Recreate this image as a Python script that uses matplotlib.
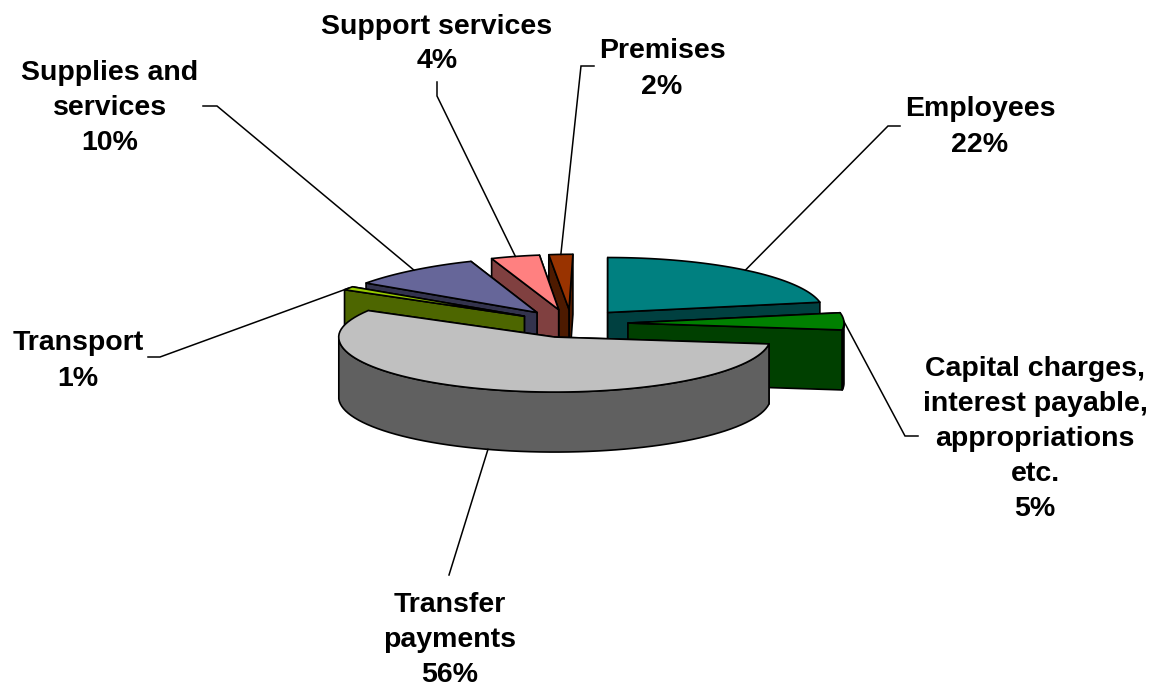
import numpy as np
import matplotlib
matplotlib.use('Agg')
import matplotlib.pyplot as plt
from matplotlib.patches import Polygon

# Expenditure split, clockwise from 12 o'clock
CATEGORIES = ['Employees', 'Capital charges,\ninterest payable,\nappropriations\netc.',
              'Transfer\npayments', 'Transport', 'Supplies and\nservices',
              'Support services', 'Premises']
SHARES = [22, 5, 56, 1, 10, 4, 2]

TOP_COLORS = ['#008080', '#008000', '#C0C0C0', '#99CC00', '#666699', '#FF8080', '#993300']
WALL_COLORS = ['#004040', '#004000', '#606060', '#4D6600', '#33334D', '#804040', '#4D1A00']

# Back slices first so the front ones overlap them
DRAW_ORDER = [0, 6, 5, 4, 3, 1, 2]

# Pie geometry in figure pixels
CENTER_X, CENTER_Y = 572, 323.5
RADIUS_X, RADIUS_Y = 216, 55
EXPLODE = 56
DEPTH = 60
VANISH_X, HORIZON_Y, PERSPECTIVE = 608, 337, 1.64e-5

# Label centre and leader elbow for each slice
LABEL_POS = [(980, 127), (1035, 439), (450, 640), (78, 361), (110, 108), (437, 44), (662, 69)]
LEADER_ELBOWS = [[(888, 126), (900, 126)], [(905, 436), (918, 436)], [(449, 575)],
                 [(160, 357), (148, 357)], [(217, 106), (203, 106)],
                 [(437, 96), (437, 82)], [(581, 66), (594, 66)]]


def project(x, y):
    """Pull the far left of the pie inward for a slight perspective."""
    x = np.asarray(x, dtype=float)
    y = np.asarray(y, dtype=float)
    scale = 1 - PERSPECTIVE * np.clip(HORIZON_Y - y, 0, None) ** 2
    return np.where(x < VANISH_X, VANISH_X + (x - VANISH_X) * scale, x), y


def rim_point(apex, deg):
    rad = np.radians(deg)
    return apex[0] + RADIUS_X * np.sin(rad), apex[1] - RADIUS_Y * np.cos(rad)


def wall(points):
    """Extrude a top-surface outline straight down by the pie depth."""
    xs, ys = project(*zip(*points))
    top = np.column_stack([xs, ys])
    return np.vstack([top, (top + [0, DEPTH])[::-1]])


plt.rcParams['font.family'] = ['Liberation Sans', 'DejaVu Sans']
fig = plt.figure(figsize=(11.58, 6.9), dpi=100)
ax = fig.add_axes([0, 0, 1, 1])
ax.set_xlim(0, 1158)
ax.set_ylim(690, 0)
ax.axis('off')

bounds = np.cumsum([0] + SHARES) * 3.6
edge = dict(edgecolor='black', linewidth=1.2, joinstyle='round')

for i in DRAW_ORDER:
    start, end = bounds[i], bounds[i + 1]
    mid = (start + end) / 2
    apex = (CENTER_X + EXPLODE * np.sin(np.radians(mid)),
            CENTER_Y - EXPLODE * RADIUS_Y / RADIUS_X * np.cos(np.radians(mid)))
    arc_deg = np.linspace(start, end, 80)
    arc = [rim_point(apex, d) for d in arc_deg]

    # Radial faces, the one further back first
    faces = sorted([arc[0], arc[-1]], key=lambda p: p[1])
    for outer in faces:
        ax.add_patch(Polygon(wall([apex, outer]), facecolor=WALL_COLORS[i], **edge))

    # Outer rim only shows on the front half
    front = arc_deg[(arc_deg >= 90) & (arc_deg <= 270)]
    if len(front) > 1:
        ax.add_patch(Polygon(wall([rim_point(apex, d) for d in front]),
                             facecolor=WALL_COLORS[i], **edge))

    xs, ys = project(*zip(*([apex] + arc)))
    ax.add_patch(Polygon(np.column_stack([xs, ys]), facecolor=TOP_COLORS[i], **edge))

    # Leader from the middle of the slice's rim out to its label
    lx, ly = rim_point(apex, mid)
    lx, ly = project(lx, ly)
    if 90 <= mid <= 270:
        ly = ly + DEPTH
    path = [(float(lx), float(ly))] + LEADER_ELBOWS[i]
    ax.plot(*zip(*path), color='black', linewidth=1.1, solid_joinstyle='miter', zorder=5)

    ax.text(LABEL_POS[i][0], LABEL_POS[i][1], f'{CATEGORIES[i]}\n{SHARES[i]}%',
            ha='center', va='center', fontsize=20.5, fontweight='bold', color='black',
            linespacing=1.45, zorder=6)

fig.savefig('out.png', dpi=100, facecolor='white')
